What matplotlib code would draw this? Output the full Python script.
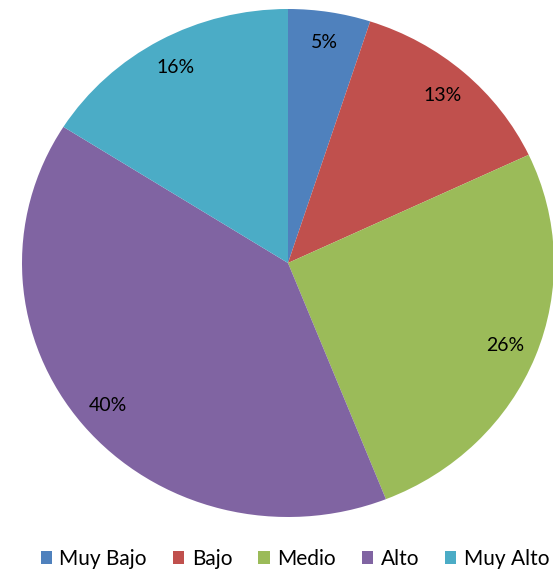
import matplotlib.pyplot as plt
from matplotlib.patches import Patch

categorias = ['Muy Bajo', 'Bajo', 'Medio', 'Alto', 'Muy Alto']
valores = [5, 13, 26, 40, 16]
colores = ['#4F81BD', '#C0504D', '#9BBB59', '#8064A2', '#4BACC6']

plt.rcParams['font.family'] = ['Lato', 'DejaVu Sans']

fig = plt.figure(figsize=(5.53, 5.73), dpi=100)
ax = fig.add_axes([22 / 553, 56 / 573, 532 / 553, 508 / 573])

wedges, textos, pcts = ax.pie(valores, colors=colores, startangle=90, counterclock=False,
                              autopct='%1.0f%%', pctdistance=0.88,
                              wedgeprops=dict(linewidth=0),
                              textprops=dict(fontsize=14, color='#000000'))
ax.set_aspect('auto')
ax.set_xlim(-1, 1)
ax.set_ylim(-1, 1)
ax.axis('off')

handles = [Patch(facecolor=c, edgecolor='none') for c in colores]
fig.legend(handles, categorias, loc='center', bbox_to_anchor=(295 / 553, 1 - 559 / 573),
           ncol=5, frameon=False, fontsize=15, handlelength=0.55, handleheight=0.55,
           handletextpad=0.35, columnspacing=1.25)

fig.savefig('out.png', dpi=100)
